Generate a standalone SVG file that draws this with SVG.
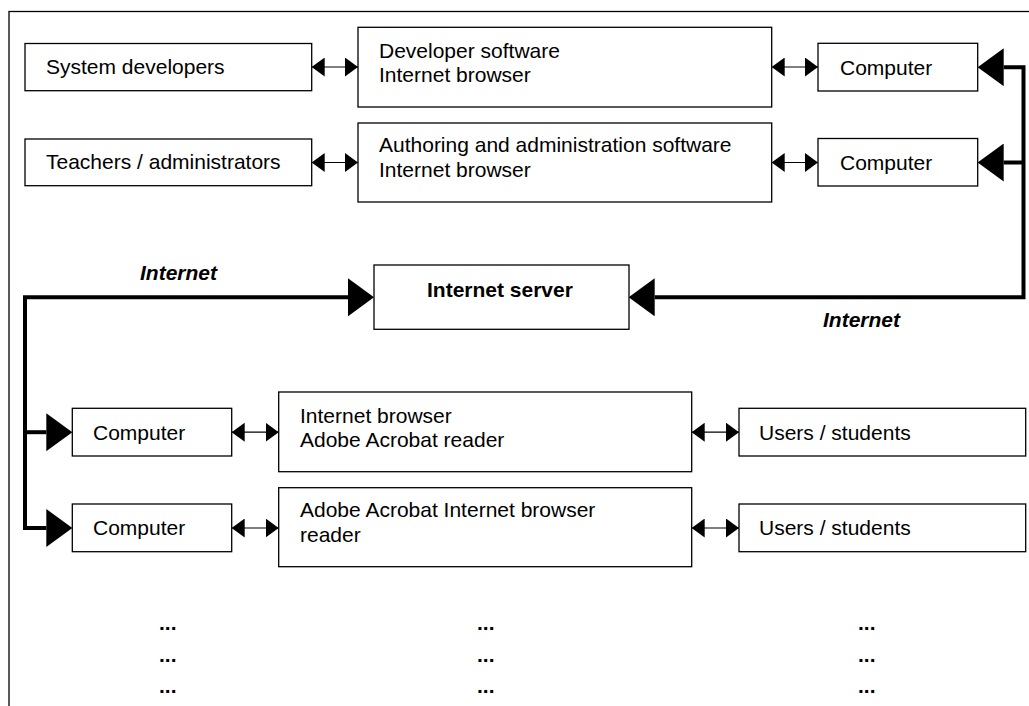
<svg xmlns="http://www.w3.org/2000/svg" width="1029" height="706" viewBox="0 0 1029 706">
<style>
  .box{fill:#fff;stroke:#000;stroke-width:1.3}
  .t{font-family:"Liberation Sans",Arial,sans-serif;font-size:21px;fill:#000}
  .b{font-weight:bold}
  .bi{font-weight:bold;font-style:italic}
  .thin{fill:none;stroke:#000;stroke-width:1.2;marker-start:url(#sa);marker-end:url(#sa)}
  .thick{fill:none;stroke:#000;stroke-width:4;stroke-linejoin:miter}
</style>
<defs>
  <marker id="sa" markerUnits="userSpaceOnUse" viewBox="0 0 13 19" markerWidth="13" markerHeight="19" refX="13" refY="9.5" orient="auto-start-reverse">
    <path d="M0,0 L13,9.5 L0,19 z" fill="#000"/>
  </marker>
  <marker id="ba" markerUnits="userSpaceOnUse" viewBox="0 0 26 38" markerWidth="26" markerHeight="38" refX="0" refY="19" orient="auto-start-reverse">
    <path d="M0,0 L26,19 L0,38 z" fill="#000"/>
  </marker>
</defs>
<rect x="9" y="11.5" width="1040" height="730" fill="none" stroke="#000" stroke-width="1.3"/>

<g id="connectors">
  <line class="thin" x1="311.7" y1="67" x2="358" y2="67"/>
  <line class="thin" x1="311.7" y1="162.5" x2="358" y2="162.5"/>
  <line class="thin" x1="771.7" y1="67" x2="818" y2="67"/>
  <line class="thin" x1="771.7" y1="162.5" x2="818" y2="162.5"/>
  <line class="thin" x1="231.7" y1="432.2" x2="278.7" y2="432.2"/>
  <line class="thin" x1="231.7" y1="528" x2="278.7" y2="528"/>
  <line class="thin" x1="691.7" y1="432.2" x2="739" y2="432.2"/>
  <line class="thin" x1="691.7" y1="528" x2="739" y2="528"/>
  <path class="thick" d="M1003.7,67.2 H1023.5 V297.3 H654.7" marker-start="url(#ba)" marker-end="url(#ba)"/>
  <path class="thick" d="M1023.5,162.5 H1003.7" marker-end="url(#ba)"/>
  <path class="thick" d="M46.3,528 H25 V297.3 H348" marker-start="url(#ba)" marker-end="url(#ba)"/>
  <path class="thick" d="M25,432.2 H46.3" marker-end="url(#ba)"/>
  <text class="t bi" x="140" y="280">Internet</text>
  <text class="t bi" x="823" y="327">Internet</text>
</g>

<g id="sysdev">
  <rect class="box" x="25" y="43.5" width="286.7" height="47.2"/>
  <text class="t" x="46" y="74">System developers</text>
</g>
<g id="teachers">
  <rect class="box" x="25" y="139" width="286.7" height="46.7"/>
  <text class="t" x="46" y="169">Teachers / administrators</text>
</g>
<g id="devsoft">
  <rect class="box" x="358" y="27.3" width="413.7" height="79.7"/>
  <text class="t" x="379" y="57.5">Developer software</text>
  <text class="t" x="379" y="82">Internet browser</text>
</g>
<g id="authsoft">
  <rect class="box" x="358" y="123" width="413.7" height="79"/>
  <text class="t" x="379" y="152">Authoring and administration software</text>
  <text class="t" x="379" y="177">Internet browser</text>
</g>
<g id="comp1">
  <rect class="box" x="818" y="43.3" width="159.7" height="47.7"/>
  <text class="t" x="840" y="74.5">Computer</text>
</g>
<g id="comp2">
  <rect class="box" x="818" y="138.5" width="159.7" height="47.5"/>
  <text class="t" x="840" y="170">Computer</text>
</g>
<g id="server">
  <rect class="box" x="374" y="265" width="255" height="64.3"/>
  <text class="t b" x="427" y="297">Internet server</text>
</g>
<g id="comp3">
  <rect class="box" x="72.3" y="408.3" width="159.4" height="47.7"/>
  <text class="t" x="93" y="439.5">Computer</text>
</g>
<g id="browser1">
  <rect class="box" x="278.7" y="392" width="413" height="79.7"/>
  <text class="t" x="300" y="423">Internet browser</text>
  <text class="t" x="300" y="447">Adobe Acrobat reader</text>
</g>
<g id="users1">
  <rect class="box" x="739" y="408.3" width="286.7" height="47.7"/>
  <text class="t" x="759" y="439.5">Users / students</text>
</g>
<g id="comp4">
  <rect class="box" x="72.3" y="504" width="159.4" height="47.7"/>
  <text class="t" x="93" y="534.5">Computer</text>
</g>
<g id="browser2">
  <rect class="box" x="278.7" y="487.7" width="413" height="79"/>
  <text class="t" x="300" y="517">Adobe Acrobat Internet browser</text>
  <text class="t" x="300" y="542">reader</text>
</g>
<g id="users2">
  <rect class="box" x="739" y="504" width="286.7" height="47.7"/>
  <text class="t" x="759" y="534.5">Users / students</text>
</g>
<g id="dots">
  <text class="t b" x="159" y="629.5">...</text>
  <text class="t b" x="159" y="661.5">...</text>
  <text class="t b" x="159" y="693">...</text>
  <text class="t b" x="477" y="629.5">...</text>
  <text class="t b" x="477" y="661.5">...</text>
  <text class="t b" x="477" y="693">...</text>
  <text class="t b" x="858" y="629.5">...</text>
  <text class="t b" x="858" y="661.5">...</text>
  <text class="t b" x="858" y="693">...</text>
</g>
</svg>
